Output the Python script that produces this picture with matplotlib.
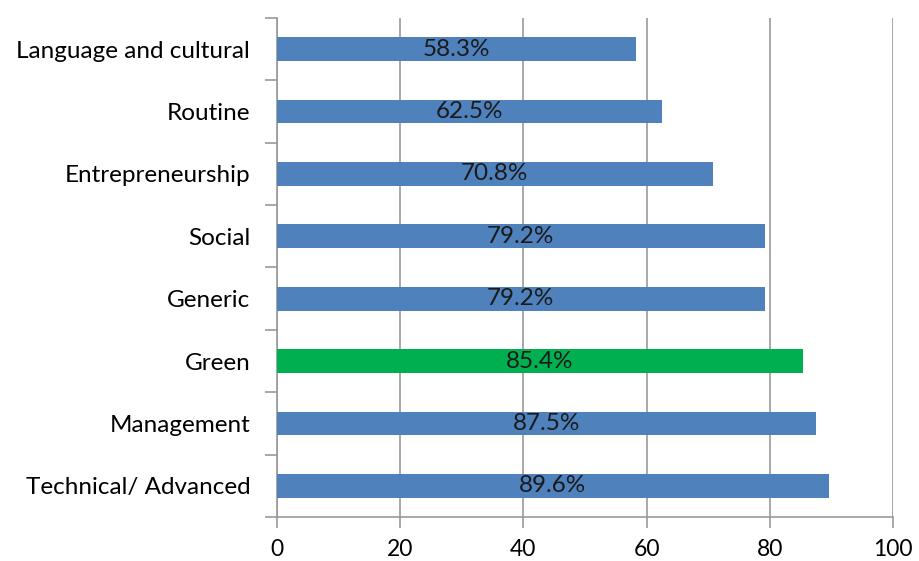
import matplotlib.pyplot as plt

categories = ["Language and cultural", "Routine", "Entrepreneurship", "Social",
              "Generic", "Green", "Management", "Technical/ Advanced"]
values = [58.3, 62.5, 70.8, 79.2, 79.2, 85.4, 87.5, 89.6]
bar_colors = ["#4F81BD", "#4F81BD", "#4F81BD", "#4F81BD",
              "#4F81BD", "#00B050", "#4F81BD", "#4F81BD"]
xticks = [0, 20, 40, 60, 80, 100]

plt.rcParams['font.family'] = ['Lato', 'DejaVu Sans']

fig = plt.figure(figsize=(9.19, 5.61), dpi=100)
ax = fig.add_axes([0.301, 0.0784, 0.671, 0.8896])

n = len(categories)
ypos = list(range(n))[::-1]
ax.barh(ypos, values, height=0.38, color=bar_colors, zorder=3)
for y, v in zip(ypos, values):
    ax.text(v / 2, y, "%.1f%%" % v, ha='center', va='center',
            fontsize=17.5, color='#1a1a1a', zorder=4)

ax.set_xlim(0, 100)
ax.set_ylim(-0.5, n - 0.5)
ax.set_xticks(xticks)
ax.set_xticklabels([str(t) for t in xticks], fontsize=16.5)
ax.set_yticks(ypos)
ax.set_yticklabels(categories, fontsize=17.5)
ax.tick_params(axis='y', length=0, pad=19)
ax.set_yticks([i - 0.5 for i in range(n + 1)], minor=True)
ax.tick_params(axis='y', which='minor', length=9, color='#999999', width=1.2)
ax.tick_params(axis='x', length=8, color='#999999', width=1.2, pad=8)

ax.grid(axis='x', color='#999999', linewidth=1.2, zorder=0)
for s in ['top', 'right']:
    ax.spines[s].set_visible(False)
for s in ['left', 'bottom']:
    ax.spines[s].set_color('#999999')
    ax.spines[s].set_linewidth(1.2)

fig.savefig("out.png", dpi=100)
